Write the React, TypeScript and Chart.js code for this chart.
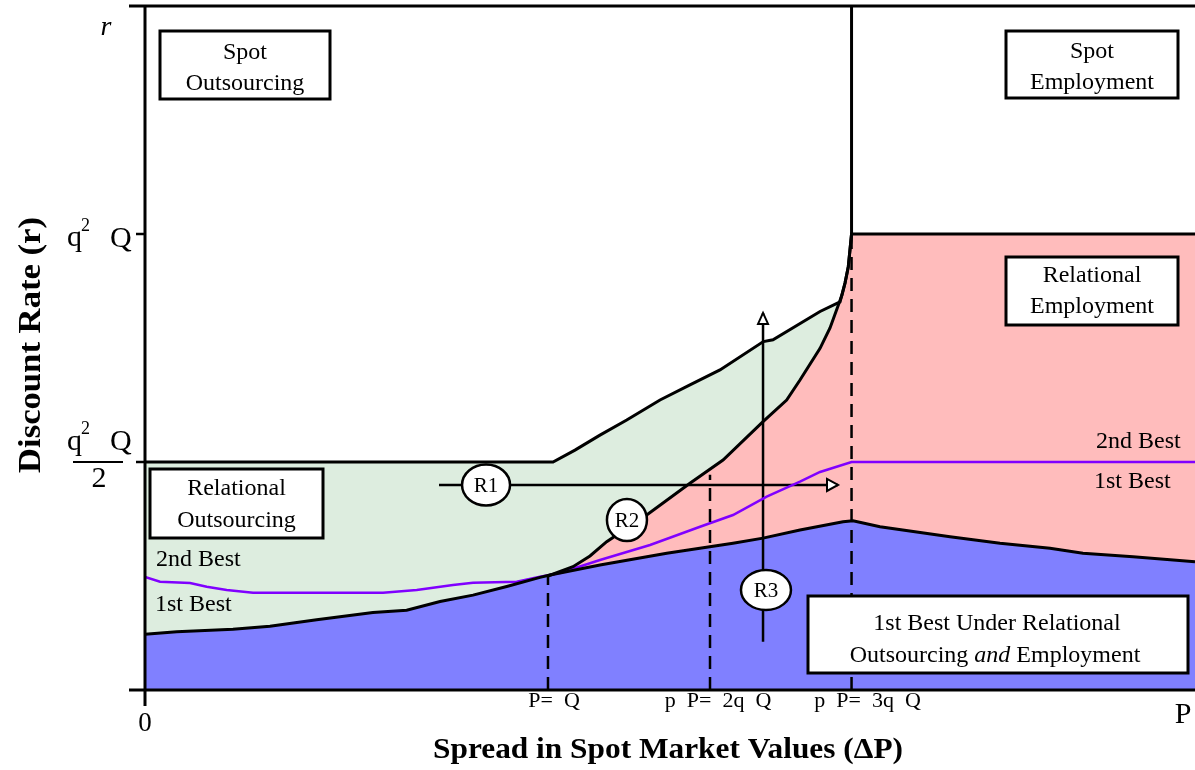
import React, { useEffect, useRef } from "react";
import { Chart, registerables } from "chart.js";

Chart.register(...registerables);

const SERIF = '"Liberation Serif", "Times New Roman", Times, serif';

// Axis ranges (x: spread in spot market values 0 → P ; y: discount rate, q²Q normalised to 1)
const X_MIN = 0;
const X_MAX = 100;
const Y_MIN = 0;
const Y_MAX = 1.5;

// y-axis ticks: q²Q and q²Q/2
const yTickValues = [1, 0.5];

// x-axis tick labels (under the three dashed thresholds)
const xTickLabels = ["P=  Q", "p  P=  2q  Q", "p  P=  3q  Q"];
const dashX = [38.38, 53.81, 67.29];
const dashTop = [0.25, 0.472, 1.0];

// 1st best under relational outsourcing and employment (top of blue region)
const firstBestX = [0, 3.02, 8.38, 11.9, 16.35, 21.71, 24.92, 28.1, 31.24, 34.45, 37.62, 38.57, 43.33, 49.69, 56.0, 58.86, 62.38, 66.48, 67.43, 70.0, 76.67, 81.43, 86.19, 89.33, 94.1, 100];
const firstBestY = [0.122, 0.128, 0.133, 0.14, 0.154, 0.17, 0.175, 0.194, 0.208, 0.227, 0.247, 0.252, 0.274, 0.3, 0.322, 0.333, 0.351, 0.369, 0.371, 0.358, 0.336, 0.322, 0.311, 0.3, 0.292, 0.281];

// 2nd best / 1st best divider (purple)
const secondBestX = [0, 1.43, 4.29, 5.88, 7.78, 10.29, 22.67, 25.88, 29.33, 31.24, 35.4, 37.62, 39.52, 43.33, 48.1, 52.86, 56.0, 59.21, 62.38, 64.29, 67.29, 100];
const secondBestY = [0.248, 0.2375, 0.2346, 0.2265, 0.2193, 0.2134, 0.2134, 0.2193, 0.2303, 0.2353, 0.2375, 0.2485, 0.2566, 0.2851, 0.318, 0.3581, 0.3838, 0.4239, 0.4568, 0.4781, 0.5, 0.5];

// Upper boundary of relational outsourcing (green region)
const outsourcingX = [0, 38.86, 40.95, 43.33, 45.88, 49.05, 51.9, 54.76, 58.89, 59.81, 64.29, 66.19, 66.67, 66.98, 67.14, 67.29];
const outsourcingY = [0.5, 0.5, 0.526, 0.559, 0.592, 0.636, 0.669, 0.702, 0.764, 0.768, 0.83, 0.851, 0.893, 0.928, 0.965, 1.0];

// Boundary outsourcing / employment (pink region upper edge), then flat q²Q
const employmentX = [38.38, 40.76, 42.38, 43.97, 47.78, 51.9, 55.05, 58.86, 61.11, 62.38, 64.29, 65.24, 66.0, 66.38, 66.67, 66.98, 67.14, 67.29, 100];
const employmentY = [0.25, 0.2704, 0.2939, 0.3252, 0.3838, 0.4533, 0.5044, 0.5884, 0.636, 0.6798, 0.7493, 0.7939, 0.8421, 0.8662, 0.8925, 0.9283, 0.9649, 1.0, 1.0];

// Spot outsourcing / spot employment divider
const spotDividerX = [67.29, 67.29];
const spotDividerY = [1.0, 1.5];

// Arrows R1 (horizontal) and R3 (vertical)
const r1ArrowX = [28.0, 66.0];
const r1ArrowY = [0.4496, 0.4496];
const r3ArrowX = [58.86, 58.86];
const r3ArrowY = [0.106, 0.827];

// Route markers
const markerLabels = ["R1", "R2", "R3"];
const markerX = [32.48, 45.9, 59.14];
const markerY = [0.4496, 0.3728, 0.2193];

const GREEN = "rgb(221,237,223)";
const PINK = "rgb(255,188,188)";
const BLUE = "rgb(128,128,255)";
const PURPLE = "rgb(128,0,255)";

const zip = (xs: number[], ys: number[]) => xs.map((x, i) => ({ x, y: ys[i] }));

const annotations = {
  id: "annotations",
  afterDatasetsDraw(chart: any) {
    const { ctx } = chart;
    const xs = chart.scales.x;
    const ys = chart.scales.y;
    const px = (v: number) => xs.getPixelForValue(v);
    const py = (v: number) => ys.getPixelForValue(v);
    ctx.save();
    ctx.strokeStyle = "#000";
    ctx.fillStyle = "#000";
    const seg = (a: number, b: number, c: number, d: number, w = 3) => {
      ctx.lineWidth = w;
      ctx.beginPath();
      ctx.moveTo(a, b);
      ctx.lineTo(c, d);
      ctx.stroke();
    };
    const x0 = px(X_MIN);
    const x1 = px(X_MAX);
    const y0 = py(Y_MIN);
    const yTop = py(Y_MAX);
    // axes and frame top
    seg(x0, yTop, x0, y0 + 16);
    seg(x0 - 16, y0, x1, y0);
    seg(x0 - 16, yTop, x1, yTop);
    yTickValues.forEach((v) => seg(x0 - 9, py(v), x0, py(v), 2.5));

    // arrow heads (open triangles)
    ctx.lineWidth = 2;
    ctx.fillStyle = "#fff";
    {
      const tx = px(r1ArrowX[1]);
      const ty = py(r1ArrowY[1]);
      ctx.beginPath();
      ctx.moveTo(tx, ty);
      ctx.lineTo(tx - 11, ty - 6);
      ctx.lineTo(tx - 11, ty + 6);
      ctx.closePath();
      ctx.fill();
      ctx.stroke();
    }
    {
      const tx = px(r3ArrowX[1]);
      const ty = py(r3ArrowY[1]);
      ctx.beginPath();
      ctx.moveTo(tx, ty);
      ctx.lineTo(tx - 5, ty + 11);
      ctx.lineTo(tx + 5, ty + 11);
      ctx.closePath();
      ctx.fill();
      ctx.stroke();
    }

    // route markers
    const radii = [
      [24, 20.5],
      [20, 21],
      [25, 20],
    ];
    markerLabels.forEach((lab, i) => {
      const cx = px(markerX[i]);
      const cy = py(markerY[i]);
      ctx.beginPath();
      ctx.ellipse(cx, cy, radii[i][0], radii[i][1], 0, 0, Math.PI * 2);
      ctx.fillStyle = "#fff";
      ctx.fill();
      ctx.lineWidth = 2.5;
      ctx.stroke();
      ctx.fillStyle = "#000";
      ctx.font = `21px ${SERIF}`;
      ctx.textAlign = "center";
      ctx.textBaseline = "alphabetic";
      ctx.fillText(lab, cx, cy + 7);
    });

    // boxes
    const box = (l: number, t: number, r: number, b: number) => {
      ctx.fillStyle = "#fff";
      ctx.fillRect(l, t, r - l, b - t);
      ctx.lineWidth = 3;
      ctx.strokeRect(l, t, r - l, b - t);
      ctx.fillStyle = "#000";
    };
    const text = (s: string, x: number, y: number, font: string, align: CanvasTextAlign = "center") => {
      ctx.font = font;
      ctx.textAlign = align;
      ctx.textBaseline = "alphabetic";
      ctx.fillText(s, x, y);
    };
    const BF = `24px ${SERIF}`;
    const BI = `italic 24px ${SERIF}`;
    box(160, 31, 330, 99);
    text("Spot", 245, 59, BF);
    text("Outsourcing", 245, 90, BF);

    box(1006, 31, 1178, 98);
    text("Spot", 1092, 58, BF);
    text("Employment", 1092, 89, BF);

    box(1006, 257, 1178, 325);
    text("Relational", 1092, 282, BF);
    text("Employment", 1092, 313, BF);

    box(150, 469, 323, 538);
    text("Relational", 236.5, 495, BF);
    text("Outsourcing", 236.5, 527, BF);

    box(808, 596, 1188, 673);
    text("1st Best Under Relational", 997, 630, BF);
    {
      const a = "Outsourcing ";
      const b = "and";
      const c = " Employment";
      ctx.font = BF;
      const wa = ctx.measureText(a).width;
      const wc = ctx.measureText(c).width;
      ctx.font = BI;
      const wb = ctx.measureText(b).width;
      const start = 995 - (wa + wb + wc) / 2;
      text(a, start, 662, BF, "left");
      text(b, start + wa, 662, BI, "left");
      text(c, start + wa + wb, 662, BF, "left");
    }

    // region labels
    text("2nd Best", 156, 566, BF, "left");
    text("1st Best", 155, 611, BF, "left");
    text("2nd Best", 1096, 448, BF, "left");
    text("1st Best", 1094, 488, BF, "left");

    // y-axis labels
    text("r", 106, 35, `italic 28px ${SERIF}`);
    const LF = `30px ${SERIF}`;
    const SF = `18px ${SERIF}`;
    text("q", 67, 246, LF, "left");
    text("2", 81, 231, SF, "left");
    text("Q", 110, 247, LF, "left");
    text("q", 67, 450, LF, "left");
    text("2", 81, 434, SF, "left");
    text("Q", 110, 450, LF, "left");
    seg(73, py(0.5), 123, py(0.5), 2);
    text("2", 99, 487, LF);

    // x-axis labels
    text("0", x0, 731, `27px ${SERIF}`);
    text("P", 1183, 723, `30px ${SERIF}`);
    const centers = [554, 718, 867.5];
    xTickLabels.forEach((s, i) => text(s, centers[i], 707, `22px ${SERIF}`));

    // axis titles
    const fitText = (s: string, cx: number, cy: number, font: string, width: number, rot: number) => {
      ctx.save();
      ctx.font = font;
      const w = ctx.measureText(s).width;
      ctx.translate(cx, cy);
      ctx.rotate(rot);
      ctx.scale(width / w, 1);
      ctx.textAlign = "center";
      ctx.textBaseline = "alphabetic";
      ctx.fillStyle = "#000";
      ctx.fillText(s, 0, 0);
      ctx.restore();
    };
    fitText("Spread in Spot Market Values (\u0394P)", 668, 758, `bold 30px ${SERIF}`, 470, 0);
    fitText("Discount Rate (r)", 40, 345, `bold 31px ${SERIF}`, 256, -Math.PI / 2);

    ctx.restore();
  },
};

export default function App() {
  const ref = useRef<HTMLCanvasElement | null>(null);
  useEffect(() => {
    if (!ref.current) return;
    const fillSet = (data: any[], color: string, order: number) => ({
      data,
      fill: "origin",
      backgroundColor: color,
      borderWidth: 0,
      pointRadius: 0,
      tension: 0,
      order,
    });
    const lineSet = (data: any[], color: string, width: number, dash: number[] = []) => ({
      data,
      fill: false,
      borderColor: color,
      borderWidth: width,
      borderDash: dash,
      pointRadius: 0,
      tension: 0,
      order: 1,
    });
    const dashed = dashX.map((x, i) =>
      lineSet(zip([x, x], [0, dashTop[i]]), "#000", 2.5, [13, 8])
    );
    const chart = new Chart(ref.current, {
      type: "line",
      data: {
        datasets: [
          fillSet(zip(outsourcingX, outsourcingY), GREEN, 30),
          fillSet(zip(employmentX, employmentY), PINK, 29),
          fillSet(zip(firstBestX, firstBestY), BLUE, 28),
          ...dashed,
          lineSet(zip(outsourcingX, outsourcingY), "#000", 3),
          lineSet(zip(employmentX, employmentY), "#000", 3),
          lineSet(zip(firstBestX, firstBestY), "#000", 3),
          lineSet(zip(spotDividerX, spotDividerY), "#000", 3),
          lineSet(zip(secondBestX, secondBestY), PURPLE, 2.5),
          lineSet(zip(r1ArrowX, r1ArrowY), "#000", 2.5),
          lineSet(zip(r3ArrowX, r3ArrowY), "#000", 2.5),
        ] as any,
      },
      options: {
        animation: false,
        responsive: false,
        devicePixelRatio: 1,
        events: [],
        layout: { padding: { left: 145, right: 0, top: 6, bottom: 80 } },
        scales: {
          x: { type: "linear", min: X_MIN, max: X_MAX, display: false },
          y: { type: "linear", min: Y_MIN, max: Y_MAX, display: false },
        },
        plugins: { legend: { display: false }, tooltip: { enabled: false } },
      },
      plugins: [annotations],
    } as any);
    return () => chart.destroy();
  }, []);
  return (
    <div style={{ position: "absolute", left: 0, top: 0, width: 1195, height: 770, background: "#fff" }}>
      <canvas ref={ref} width={1195} height={770} style={{ display: "block", width: 1195, height: 770 }} />
    </div>
  );
}
